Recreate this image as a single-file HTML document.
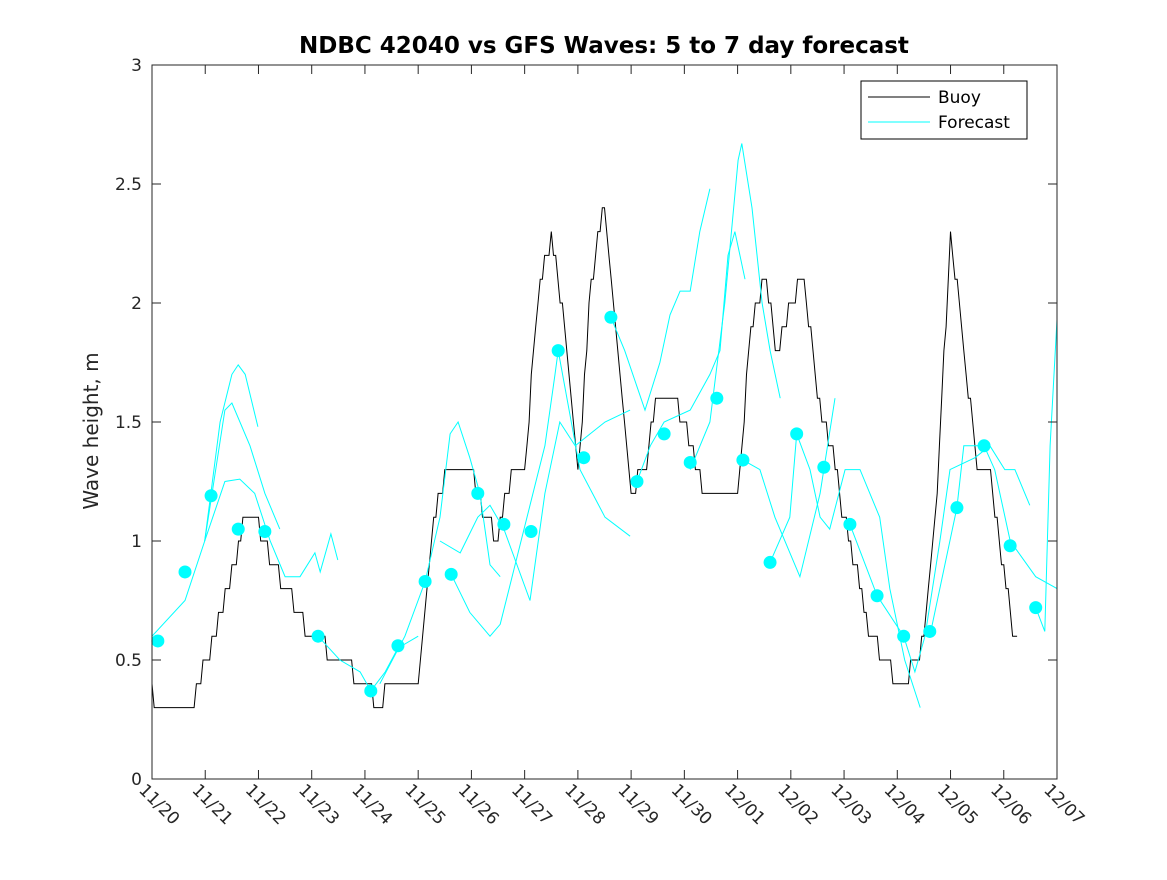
<!DOCTYPE html>
<html><head><meta charset="utf-8">
<style>
body{margin:0;background:#fff;}
svg text{font-family:"DejaVu Sans","Liberation Sans",sans-serif;}
</style></head>
<body>
<svg id="chart" width="1167" height="875" xmlns="http://www.w3.org/2000/svg">
<rect width="1167" height="875" fill="#fff"/>
<text x="604" y="53" text-anchor="middle" font-size="23" font-weight="bold">NDBC 42040 vs GFS Waves: 5 to 7 day forecast</text>
<text transform="translate(98,431) rotate(-90)" text-anchor="middle" font-size="20" fill="#262626">Wave height, m</text>
<g id="marks"></g>
<g id="axes"></g>
<g>
<rect x="861" y="81" width="166" height="58" fill="#fff" stroke="#000" stroke-width="1"/>
<line x1="868" y1="97" x2="930" y2="97" stroke="#000"/>
<text x="938" y="103" font-size="17">Buoy</text>
<line x1="868" y1="122" x2="930" y2="122" stroke="#00ffff"/>
<text x="938" y="128" font-size="17">Forecast</text>
</g>
</svg>
<script>
const xTickLabels=["11/20","11/21","11/22","11/23","11/24","11/25","11/26","11/27","11/28","11/29","11/30","12/01","12/02","12/03","12/04","12/05","12/06","12/07"];
const yTicks=[0,0.5,1,1.5,2,2.5,3];
const yTickLabels=["0","0.5","1","1.5","2","2.5","3"];
const buoyStep=0.25;
const buoyVals=[0.35,0.3,0.3,0.3,0.5,0.65,0.85,1.1,1.05,0.9,0.8,0.7,0.6,0.55,0.5,0.45,0.4,0.3,0.4,0.35,0.35,1.0,1.3,1.25,1.3,1.1,1.0,1.3,1.3,2.0,2.3,1.9,1.25,2.1,2.4,1.8,1.2,1.3,1.6,1.6,1.5,1.3,1.15,1.2,1.2,1.9,2.1,1.8,2.0,2.1,1.6,1.4,1.1,0.85,0.6,0.5,0.4,0.45,0.6,1.2,2.3,1.8,1.3,1.25,0.85,0.55];
const dotDays=[0.11,0.62,1.11,1.62,2.12,3.12,4.11,4.62,5.13,5.62,6.12,6.61,7.12,7.63,8.11,8.62,9.11,9.62,10.11,10.61,11.10,11.61,12.11,12.62,13.11,13.62,14.12,14.61,15.12,15.63,16.12,16.60];
const dotVals=[0.58,0.87,1.19,1.05,1.04,0.60,0.37,0.56,0.83,0.86,1.20,1.07,1.04,1.80,1.35,1.94,1.25,1.45,1.33,1.60,1.34,0.91,1.45,1.31,1.07,0.77,0.60,0.62,1.14,1.40,0.98,0.72];
const fcDays=[
[0,0.62,0.99,1.28,1.50,1.62,1.75,1.99],
[0.99,1.37,1.50,1.84,2.12,2.40],
[0.99,1.37,1.65,1.93,2.22,2.50,2.78,3.06,3.16,3.36,3.49],
[3.12,3.53,3.91,4.11,4.38,4.62,5.0],
[4.28,4.75,5.13,5.41,5.60,5.75,5.97,6.16,6.35,6.54],
[5.62,5.97,6.35,6.54,6.82,7.10,7.38,7.57,7.63],
[5.41,5.79,6.12,6.35,6.61,7.10,7.38,7.66,7.95,8.23,8.51,8.98],
[8.62,8.88,9.26,9.54,9.73,9.92,10.11,10.29,10.48],
[7.63,8.04,8.51,8.98],
[9.11,9.36,9.62,10.11,10.48,10.67,10.82,10.95,11.14],
[10.11,10.48,10.76,11.01,11.08,11.27,11.46,11.61,11.80],
[11.10,11.42,11.70,12.17,12.55,12.83],
[11.61,11.98,12.11,12.36,12.55,12.73,13.02,13.30,13.67,13.86,14.14,14.43],
[13.11,13.62,14.12,14.33,14.52,14.80,14.99,15.46,15.74,16.02,16.21,16.49],
[14.61,15.12,15.25,15.63,15.83,16.12,16.60,17.0],
[16.60,16.77,16.87,17.0]
];
const fcVals=[
[0.6,0.75,1.0,1.5,1.7,1.74,1.7,1.48],
[1.0,1.55,1.58,1.4,1.2,1.05],
[1.0,1.25,1.26,1.2,1.0,0.85,0.85,0.95,0.87,1.03,0.92],
[0.6,0.5,0.45,0.37,0.45,0.55,0.6],
[0.4,0.6,0.83,1.1,1.45,1.5,1.35,1.2,0.9,0.85],
[0.86,0.7,0.6,0.65,0.9,1.15,1.4,1.7,1.8],
[1.0,0.95,1.1,1.15,1.05,0.75,1.2,1.5,1.4,1.45,1.5,1.55],
[1.94,1.8,1.55,1.75,1.95,2.05,2.05,2.3,2.48],
[1.8,1.3,1.1,1.02],
[1.25,1.4,1.5,1.55,1.7,1.8,2.2,2.3,2.1],
[1.3,1.5,2.0,2.6,2.67,2.4,2.0,1.8,1.6],
[1.34,1.3,1.1,0.85,1.2,1.6],
[0.91,1.1,1.45,1.3,1.1,1.05,1.3,1.3,1.1,0.8,0.5,0.3],
[1.07,0.77,0.6,0.45,0.6,1.0,1.3,1.35,1.4,1.3,1.3,1.15],
[0.6,1.14,1.4,1.4,1.3,1.0,0.85,0.8],
[0.72,0.62,1.4,1.93]
];
const L=152,R=1057,T=65,B=779,NS="http://www.w3.org/2000/svg";
const xs=d=>L+d*(R-L)/17, ys=v=>B-v*(B-T)/3;
const marks=document.getElementById('marks'), axes=document.getElementById('axes');
function mk(tag,attrs,parent){const e=document.createElementNS(NS,tag);for(const k in attrs)e.setAttribute(k,attrs[k]);parent.appendChild(e);return e;}
let pts=[];
for(let h=0;h<=(buoyVals.length-1)*buoyStep*24;h++){const t=h/24,i=Math.min(Math.floor(t/buoyStep),buoyVals.length-2),f=t/buoyStep-i;const v=Math.round((buoyVals[i]*(1-f)+buoyVals[i+1]*f)*10)/10;pts.push(xs(t).toFixed(1)+","+ys(v).toFixed(1));}
const bl=mk('polyline',{points:pts.join(' '),fill:'none',stroke:'#000','stroke-width':1},marks);


fcDays.forEach((ds,k)=>{const p=ds.map((d,j)=>xs(d).toFixed(1)+","+ys(fcVals[k][j]).toFixed(1)).join(' ');
const fl=mk('polyline',{points:p,fill:'none',stroke:'#00ffff','stroke-width':1},marks);

});
dotDays.forEach((d,i)=>{const c=mk('circle',{cx:xs(d),cy:ys(dotVals[i]),r:6.5,fill:'#00ffff'},marks);

});
const box=mk('rect',{x:L,y:T,width:R-L,height:B-T,fill:'none',stroke:'#262626','stroke-width':1},axes);


yTicks.forEach((v,i)=>{const y=ys(v);mk('line',{x1:L,y1:y,x2:L+9,y2:y,stroke:'#262626'},axes);mk('line',{x1:R,y1:y,x2:R-9,y2:y,stroke:'#262626'},axes);
const t=mk('text',{x:L-10,y:y+6,'text-anchor':'end','font-size':17,fill:'#262626'},axes);t.textContent=yTickLabels[i];

});
xTickLabels.forEach((s,i)=>{const x=xs(i);mk('line',{x1:x,y1:B,x2:x,y2:B-9,stroke:'#262626'},axes);mk('line',{x1:x,y1:T,x2:x,y2:T+9,stroke:'#262626'},axes);
const t=mk('text',{transform:`translate(${x-14},${B+12}) rotate(45)`,'font-size':17,fill:'#262626'},axes);t.textContent=s;

});
</script>
</body></html>
